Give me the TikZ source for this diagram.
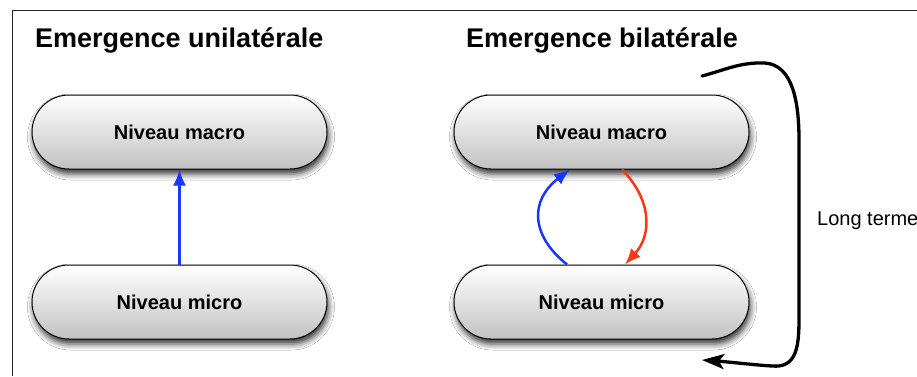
\documentclass[tikz,border=0pt]{standalone}
\usepackage{fontspec}
\setmainfont{Liberation Sans}
\usetikzlibrary{arrows.meta,shadows.blur}
\definecolor{arrblue}{RGB}{25,55,255}
\definecolor{arrred}{RGB}{255,55,20}
\tikzset{
  pill/.style={draw=black, line width=1pt, rounded corners=37pt,
    minimum width=295pt, minimum height=74pt, inner sep=0pt,
    top color=white, bottom color=black!24,
    blur shadow={shadow xshift=1.5pt, shadow yshift=-5pt, shadow blur radius=6pt, shadow opacity=80},
    font=\fontsize{20}{24}\selectfont\bfseries},
  titletext/.style={anchor=base west, inner sep=0pt, font=\fontsize{27}{32}\selectfont\bfseries},
  bluearr/.style={draw=arrblue, line width=2.5pt, -{Latex[length=16pt,width=13pt]}},
  redarr/.style={draw=arrred, line width=2.5pt, -{Latex[length=16pt,width=13pt]}},
  bigarr/.style={draw=black, line width=3.3pt, line cap=round, -{Stealth[length=22pt,width=15pt,inset=5pt]}},
}
\begin{document}
\begin{tikzpicture}[x=1pt,y=-1pt]
\useasboundingbox (0,0) rectangle (917,376);
\fill[white] (0,0) rectangle (917,376);
\draw[line width=1pt, black!85] (12,376) -- (12,10) -- (917,10);

\node[titletext] (t1) at (35,47) {Emergence unilatérale};
\node[titletext] (t2) at (466,47) {Emergence bilatérale};

\node[pill] (macroL) at (179.5,132) {Niveau macro};
\node[pill] (microL) at (179.5,302) {Niveau micro};
\node[pill] (macroR) at (601.5,132) {Niveau macro};
\node[pill] (microR) at (601.5,302) {Niveau micro};

\draw[bluearr] (microL.north) -- (macroL.south);

\draw[bluearr] ([xshift=-34.5pt]microR.north) .. controls (530,235) and (530,200) .. ([xshift=-31.5pt]macroR.south);
\draw[redarr] ([xshift=20.5pt]macroR.south) .. controls (652,200) and (652,235) .. ([xshift=23.5pt]microR.north);

\coordinate (bs) at (702,76);
\coordinate (be) at (702,360);
\draw[bigarr] (bs) .. controls (725,70) and (740,62) .. (765,63)
  .. controls (792,65) and (799,100) .. (799,140) -- (799,320)
  .. controls (799,350) and (795,368) .. (772,366)
  .. controls (755,365) and (730,362) .. (be);

\node[anchor=base west, inner sep=0pt, font=\fontsize{20}{24}\selectfont] (lt) at (817,225) {Long terme};
\end{tikzpicture}
\end{document}
